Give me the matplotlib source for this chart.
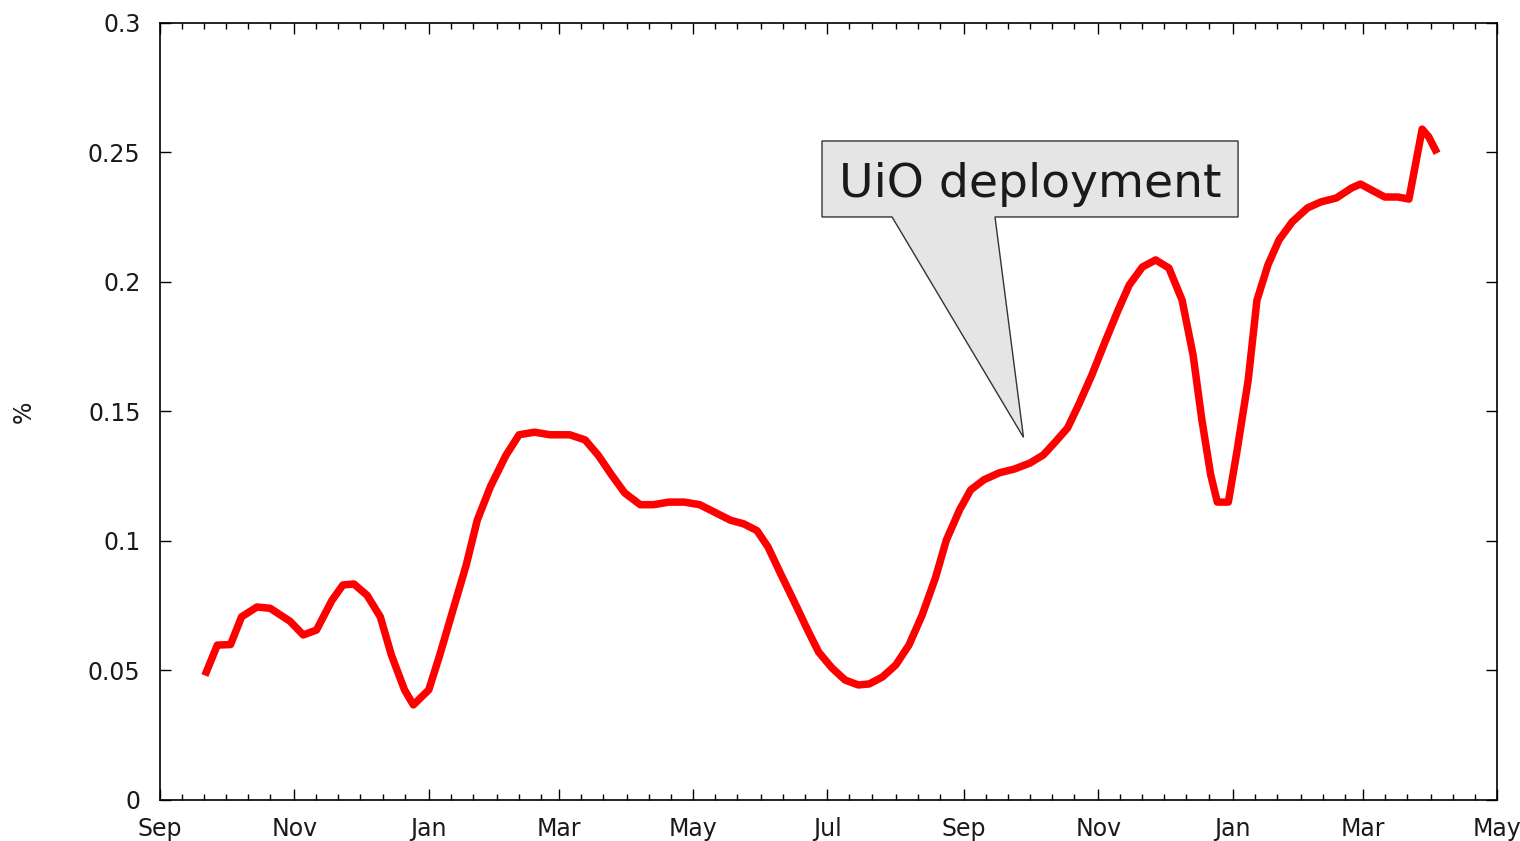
import pandas as pd
import matplotlib.pyplot as plt
import matplotlib.dates as mdates
from matplotlib.patches import Polygon

# Share of traffic (%)
dates = [
    '2009-09-22', '2009-09-27', '2009-10-03', '2009-10-08', '2009-10-15',
    '2009-10-21', '2009-10-30', '2009-11-05', '2009-11-11', '2009-11-18',
    '2009-11-23', '2009-11-28', '2009-12-04', '2009-12-10', '2009-12-15',
    '2009-12-21', '2009-12-25', '2010-01-01', '2010-01-06', '2010-01-12',
    '2010-01-18', '2010-01-23', '2010-01-29', '2010-02-05', '2010-02-11',
    '2010-02-18', '2010-02-25', '2010-03-06', '2010-03-13', '2010-03-19',
    '2010-03-25', '2010-03-31', '2010-04-07', '2010-04-13', '2010-04-20',
    '2010-04-27', '2010-05-04', '2010-05-11', '2010-05-18', '2010-05-24',
    '2010-05-30', '2010-06-04', '2010-06-10', '2010-06-16', '2010-06-22',
    '2010-06-27', '2010-07-03', '2010-07-09', '2010-07-15', '2010-07-20',
    '2010-07-26', '2010-08-01', '2010-08-07', '2010-08-13', '2010-08-19',
    '2010-08-24', '2010-08-30', '2010-09-04', '2010-09-10', '2010-09-17',
    '2010-09-24', '2010-10-01', '2010-10-07', '2010-10-12', '2010-10-18',
    '2010-10-23', '2010-10-29', '2010-11-04', '2010-11-10', '2010-11-15',
    '2010-11-21', '2010-11-27', '2010-12-03', '2010-12-09', '2010-12-14',
    '2010-12-18', '2010-12-22', '2010-12-25', '2010-12-30', '2011-01-03',
    '2011-01-08', '2011-01-12', '2011-01-17', '2011-01-22', '2011-01-28',
    '2011-02-04', '2011-02-10', '2011-02-17', '2011-02-24', '2011-02-28',
    '2011-03-05', '2011-03-11', '2011-03-17', '2011-03-22', '2011-03-28',
    '2011-03-31', '2011-04-03',
]
share = [
    0.0494, 0.0598, 0.0600, 0.0707, 0.0745,
    0.0740, 0.0690, 0.0637, 0.0656, 0.0770,
    0.0830, 0.0834, 0.0790, 0.0707, 0.0560,
    0.0425, 0.0367, 0.0425, 0.0560, 0.0734,
    0.0907, 0.1080, 0.1210, 0.1330, 0.1410,
    0.1420, 0.1410, 0.1410, 0.1390, 0.1330,
    0.1255, 0.1185, 0.1140, 0.1140, 0.1150,
    0.1150, 0.1140, 0.1110, 0.1080, 0.1066,
    0.1040, 0.0977, 0.0869, 0.0764, 0.0656,
    0.0571, 0.0510, 0.0463, 0.0444, 0.0448,
    0.0475, 0.0521, 0.0598, 0.0714, 0.0857,
    0.1004, 0.1120, 0.1197, 0.1236, 0.1263,
    0.1278, 0.1301, 0.1332, 0.1378, 0.1436,
    0.1525, 0.1640, 0.1768, 0.1892, 0.1988,
    0.2058, 0.2085, 0.2054, 0.1930, 0.1718,
    0.1467, 0.1255, 0.1150, 0.1150, 0.1350,
    0.1620, 0.1930, 0.2066, 0.2162, 0.2232,
    0.2286, 0.2309, 0.2324, 0.2363, 0.2378,
    0.2355, 0.2328, 0.2328, 0.2320, 0.2590,
    0.2560, 0.2510,
]

note_text = 'UiO deployment'
note_date = '2010-09-28'
note_value = 0.140

x = pd.to_datetime(dates)
text_color = '#1a1a1a'

fig = plt.figure(figsize=(15.2, 8.41), dpi=100)
ax = fig.add_axes([0.1053, 0.0488, 0.8796, 0.9239])

ax.plot(x, share, color='#ff0000', linewidth=5.4, solid_joinstyle='round')

ax.set_xlim(pd.Timestamp('2009-09-01'), pd.Timestamp('2011-05-01'))
ax.set_ylim(0, 0.3)
ax.set_yticks([0, 0.05, 0.1, 0.15, 0.2, 0.25, 0.3])
ax.set_yticklabels(['0', '0.05', '0.1', '0.15', '0.2', '0.25', '0.3'])

ax.xaxis.set_major_locator(mdates.MonthLocator(bymonth=[1, 3, 5, 7, 9, 11]))
ax.xaxis.set_major_formatter(mdates.DateFormatter('%b'))
ax.xaxis.set_minor_locator(mdates.DayLocator(bymonthday=[1, 11, 21]))

ax.tick_params(which='both', direction='in', top=True, right=True,
               width=1.0, colors='black', labelcolor=text_color, labelsize=17)
ax.tick_params(which='major', length=8)
ax.tick_params(which='minor', length=4)
ax.tick_params(axis='x', pad=12)
ax.tick_params(axis='y', pad=14)
for s in ax.spines.values():
    s.set_linewidth(1.2)

ax.set_ylabel('%', fontsize=17, color=text_color)
ax.yaxis.set_label_coords(-0.093, 0.5)

# Callout box with a tail pointing at the deployment date
tip = ax.transAxes.inverted().transform(
    ax.transData.transform((mdates.date2num(pd.Timestamp(note_date)), note_value)))
x0, x1, y0, y1 = 0.4951, 0.8063, 0.7503, 0.8481
t0, t1 = 0.5475, 0.6245
shape = Polygon([(x0, y0), (x0, y1), (x1, y1), (x1, y0), (t1, y0),
                 (tip[0], tip[1]), (t0, y0)],
                closed=True, transform=ax.transAxes,
                facecolor='#e5e5e5', edgecolor='#333333', linewidth=1.0, zorder=5)
ax.add_patch(shape)
ax.text((x0 + x1) / 2, 0.776, note_text, transform=ax.transAxes,
        ha='center', va='baseline', fontsize=34, color=text_color, zorder=6)

plt.savefig('out.png', dpi=100)
